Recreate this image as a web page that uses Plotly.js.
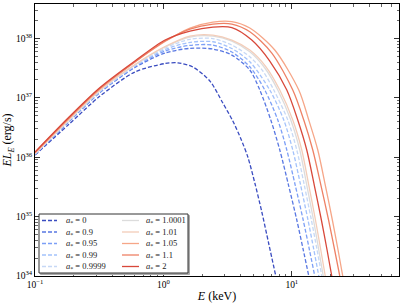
<!DOCTYPE html>
<html>
<head>
<meta charset="utf-8">
<script src="https://cdn.plot.ly/plotly-3.0.1.min.js"></script>
<style>html,body{margin:0;padding:0;background:#fff;}#chart{width:407px;height:306px;}</style>
</head>
<body>
<div id="chart"></div>
<script>
// Spin labels
const spinLabels = ['0', '0.9', '0.95', '0.99', '0.9999', '1.0001', '1.01', '1.05', '1.1', '2'];

// Energies E (keV) and luminosities E L_E (erg/s)
const E_0     = [0.1, 0.181, 0.321, 0.600, 1.03, 1.297, 1.697, 2.301, 2.904, 3.474, 4.010, 4.546, 5.154, 5.842, 6.622, 7.506];
const L_0     = [1.09e36, 3.48e36, 1.07e37, 2.72e37, 3.78e37, 3.88e37, 3.30e37, 1.918e37, 8.18e36, 4.07e36, 2.05e36, 1.008e36, 3.68e35, 1.195e35, 3.46e34, 1.0e34];

const E_09    = [0.1, 0.181, 0.321, 0.600, 1.03, 1.61, 2.43, 3.413, 4.71, 5.636, 6.864, 8.065, 9.425, 10.94, 12.29, 13.56];
const L_09    = [1.11e36, 3.84e36, 1.23e37, 3.24e37, 5.68e37, 6.81e37, 6.63e37, 5.25e37, 2.94e37, 1.353e37, 4.23e36, 1.322e36, 3.40e35, 8.77e34, 2.74e34, 1.0e34];

const E_095   = [0.1, 0.181, 0.321, 0.600, 1.03, 1.61, 2.43, 3.413, 4.71, 6.166, 7.782, 9.145, 10.63, 12.27, 13.73, 15.10];
const L_095   = [1.12e36, 3.91e36, 1.25e37, 3.37e37, 6.14e37, 7.65e37, 7.74e37, 5.90e37, 3.34e37, 1.353e37, 4.23e36, 1.322e36, 3.40e35, 8.77e34, 2.74e34, 1.0e34];

const E_099   = [0.1, 0.181, 0.321, 0.600, 1.03, 1.61, 2.43, 3.413, 4.71, 6.74, 8.664, 10.18, 11.71, 13.37, 14.86, 16.23];
const L_099   = [1.13e36, 3.99e36, 1.28e37, 3.43e37, 6.50e37, 8.60e37, 8.80e37, 6.76e37, 4.05e37, 1.353e37, 4.23e36, 1.322e36, 3.40e35, 8.77e34, 2.74e34, 1.0e34];

const E_09999 = [0.1, 0.181, 0.321, 0.600, 1.03, 1.61, 2.43, 3.413, 4.71, 5.95, 7.244, 9.309, 10.94, 12.51, 14.21, 15.74, 17.12];
const L_09999 = [1.13e36, 4.07e36, 1.30e37, 3.50e37, 6.89e37, 9.66e37, 9.96e37, 7.74e37, 4.92e37, 2.83e37, 1.353e37, 4.23e36, 1.322e36, 3.40e35, 8.77e34, 2.74e34, 1.0e34];

const E_10001 = [0.1, 0.181, 0.321, 0.600, 1.03, 1.61, 2.43, 3.413, 4.71, 6.166, 7.782, 9.822, 11.54, 13.08, 14.76, 16.23, 17.59];
const L_10001 = [1.15e36, 4.07e36, 1.33e37, 3.57e37, 7.17e37, 1.056e38, 1.098e38, 9.04e37, 5.97e37, 3.18e37, 1.353e37, 4.23e36, 1.322e36, 3.40e35, 8.77e34, 2.74e34, 1.0e34];

const E_101   = [0.1, 0.181, 0.321, 0.600, 1.03, 1.61, 2.43, 3.413, 4.71, 6.278, 8.065, 10.18, 11.96, 13.56, 15.29, 16.82, 18.23];
const L_101   = [1.15e36, 4.15e36, 1.35e37, 3.64e37, 7.31e37, 1.098e38, 1.141e38, 9.40e37, 6.38e37, 3.365e37, 1.353e37, 4.23e36, 1.322e36, 3.40e35, 8.77e34, 2.74e34, 1.0e34];

const E_105   = [0.1, 0.181, 0.321, 0.600, 1.03, 1.61, 2.43, 3.413, 4.71, 7.37, 11.34, 13.56, 15.94, 18.23, 20.70, 22.93, 24.94];
const L_105   = [1.20e36, 4.40e36, 1.43e37, 4.01e37, 8.87e37, 1.497e38, 1.888e38, 1.925e38, 1.497e38, 6.38e37, 1.353e37, 4.23e36, 1.322e36, 3.40e35, 8.77e34, 2.74e34, 1.0e34];

const E_11    = [0.1, 0.181, 0.321, 0.600, 1.03, 1.61, 2.43, 3.413, 4.71, 6.99, 10.18, 12.40, 14.57, 16.85, 19.34, 21.57, 23.64];
const L_11    = [1.20e36, 4.40e36, 1.43e37, 4.01e37, 9.04e37, 1.44e38, 1.748e38, 1.748e38, 1.297e38, 5.68e37, 1.353e37, 4.23e36, 1.322e36, 3.40e35, 8.77e34, 2.74e34, 1.0e34];

const E_2     = [0.1, 0.181, 0.321, 0.600, 1.03, 1.61, 2.43, 3.413, 4.88, 6.74, 9.145, 11.13, 13.08, 14.96, 17.00, 18.83, 20.48];
const L_2     = [1.22e36, 4.57e36, 1.49e37, 4.17e37, 9.40e37, 1.332e38, 1.556e38, 1.526e38, 9.40e37, 4.17e37, 1.353e37, 4.23e36, 1.322e36, 3.40e35, 8.77e34, 2.74e34, 1.0e34];

// Axis ticks
const xTickVals = [0.1, 1, 10];
const xTickText = ['10<sup>\u22121</sup>', '10<sup>0</sup>', '10<sup>1</sup>'];
const yTickVals = [1e34, 1e35, 1e36, 1e37, 1e38];
const yTickText = ['10<sup>34</sup>', '10<sup>35</sup>', '10<sup>36</sup>', '10<sup>37</sup>', '10<sup>38</sup>'];

// Styles
const colors = ['#3a4cc0', '#5877e2', '#7c9ff6', '#a3c2fb', '#c6d8f5', '#dcdcdc', '#f3cdb9', '#f6a688', '#ee8165', '#d8483a'];
const dashed = [true, true, true, true, true, false, false, false, false, false];

const Es = [E_0, E_09, E_095, E_099, E_09999, E_10001, E_101, E_105, E_11, E_2];
const Ls = [L_0, L_09, L_095, L_099, L_09999, L_10001, L_101, L_105, L_11, L_2];

const traces = Es.map((E, i) => ({
  x: E, y: Ls[i], type: 'scatter', mode: 'lines',
  name: 'a* = ' + spinLabels[i],
  showlegend: false,
  line: {color: colors[i], width: 1.3, shape: 'spline', smoothing: 0.8, dash: dashed[i] ? '4px,2px' : 'solid'},
  hoverinfo: 'skip'
}));

// Plot area in pixels
const W = 407, H = 306;
const M = {l: 35, r: 8, t: 4, b: 30};
const pw = W - M.l - M.r, ph = H - M.t - M.b;
const px = v => (v - M.l) / pw;
const py = v => (H - M.b - v) / ph;

// Manual legend (two columns)
const shapes = [];
const annotations = [];
const rowY = [220.5, 232, 243.5, 255, 266.5];
const colLine = [[42, 57], [122, 139]];
const colText = [64, 144];
const bx0 = 39, bx1 = 188, by0 = 214, by1 = 273;
shapes.push({type: 'rect', xref: 'paper', yref: 'paper', x0: px(bx0 + 1.5), x1: px(bx1 + 1.5), y0: py(by1 + 1.5), y1: py(by0 + 1.5),
  line: {color: '#aaa', width: 1}, fillcolor: '#aaa', layer: 'above'});
shapes.push({type: 'rect', xref: 'paper', yref: 'paper', x0: px(bx0), x1: px(bx1), y0: py(by1), y1: py(by0),
  line: {color: '#333', width: 1}, fillcolor: 'rgba(255,255,255,1)', layer: 'above'});
spinLabels.forEach((s, i) => {
  const col = i < 5 ? 0 : 1, row = i % 5;
  shapes.push({type: 'line', xref: 'paper', yref: 'paper',
    x0: px(colLine[col][0]), x1: px(colLine[col][1]), y0: py(rowY[row]), y1: py(rowY[row]),
    line: {color: colors[i], width: 1.3, dash: dashed[i] ? '4px,2px' : 'solid'}, layer: 'above'});
  annotations.push({xref: 'paper', yref: 'paper', x: px(colText[col]), y: py(rowY[row]),
    xanchor: 'left', yanchor: 'middle', showarrow: false,
    text: '<i>a</i><sub>*</sub> = ' + s,
    font: {family: 'Liberation Serif, DejaVu Serif, serif', size: 8.5, color: '#222'}});
});

const serif = 'Liberation Serif, DejaVu Serif, serif';
const minorX = [0.2,0.3,0.4,0.5,0.6,0.7,0.8,0.9,2,3,4,5,6,7,8,9,20,30,40,50,60];
const minorY = [];
[1e34,1e35,1e36,1e37,1e38].forEach(d => { for (let k = 2; k <= 9; k++) minorY.push(k * d); });

const layout = {
  width: W, height: H,
  margin: M,
  paper_bgcolor: '#fff', plot_bgcolor: '#fff',
  showlegend: false,
  xaxis: {
    type: 'log', range: [-1, 1.835],
    tickvals: xTickVals, ticktext: xTickText,
    ticks: 'inside', ticklen: 5, tickwidth: 0.8, tickcolor: '#000',
    minor: {tickvals: minorX, ticks: 'inside', ticklen: 2.5, tickwidth: 0.6, tickcolor: '#000'},
    showline: true, linecolor: '#000', linewidth: 1, mirror: 'ticks',
    showgrid: false, zeroline: false,
    tickfont: {family: serif, size: 9.5, color: '#000'},
    title: {text: '<i>E</i> (keV)', font: {family: serif, size: 12, color: '#000'}, standoff: 2}
  },
  yaxis: {
    type: 'log', range: [34, 38.58],
    tickvals: yTickVals, ticktext: yTickText,
    ticks: 'inside', ticklen: 5, tickwidth: 0.8, tickcolor: '#000',
    minor: {tickvals: minorY, ticks: 'inside', ticklen: 2.5, tickwidth: 0.6, tickcolor: '#000'},
    showline: true, linecolor: '#000', linewidth: 1, mirror: 'ticks',
    showgrid: false, zeroline: false,
    tickfont: {family: serif, size: 9.5, color: '#000'},
    title: {text: '<i>EL</i><sub><i>E</i></sub> (erg/s)', font: {family: serif, size: 12, color: '#000'}, standoff: 1}
  },
  shapes: shapes,
  annotations: annotations
};

Plotly.newPlot('chart', traces, layout, {staticPlot: true, displayModeBar: false});
</script>
</body>
</html>
